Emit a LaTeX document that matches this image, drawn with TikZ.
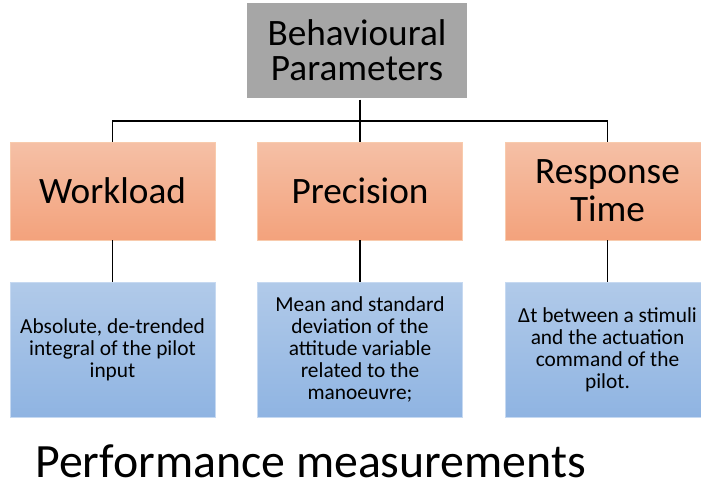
\documentclass[tikz,border=0pt]{standalone}
\usepackage{fontspec}
\setmainfont{Carlito}
\definecolor{boxgray}{HTML}{A6A6A6}
\definecolor{orangetop}{HTML}{F5C0A6}
\definecolor{orangebot}{HTML}{F3A27C}
\definecolor{orangeline}{HTML}{F8CBAD}
\definecolor{bluetop}{HTML}{B1CAE9}
\definecolor{bluebot}{HTML}{8FB4E2}
\definecolor{blueline}{HTML}{C6D9F1}
\tikzset{
	head/.style={draw=white, line width=1pt, fill=boxgray, minimum width=222*0.025cm,
		minimum height=97*0.025cm, align=center, font=\fontsize{26.5}{25}\selectfont},
	measure/.style={draw=orangeline, top color=orangetop, bottom color=orangebot,
		minimum width=205*0.025cm, minimum height=98*0.025cm, align=center,
		font=\fontsize{26.5}{27}\selectfont},
	descbox/.style={draw=blueline, top color=bluetop, bottom color=bluebot,
		minimum width=205*0.025cm, minimum height=135*0.025cm, align=center,
		font=\fontsize{15.2}{15.6}\selectfont},
	conn/.style={line width=1.1pt}
}
\begin{document}
\begin{tikzpicture}[x=0.025cm, y=-0.025cm]
	\clip (0,0) rectangle (701,486);
	\node[head] (params) at (357,50.5) {Behavioural\\Parameters};
	\node[measure] (workload) at (112.5,191) {Workload};
	\node[measure] (precision) at (360,191) {Precision};
	\node[measure] (resptime) at (607.5,191) {Response\\Time};
	\node[descbox] (wdesc) at (112.5,349.5) {Absolute, de-trended\\integral of the pilot\\input};
	\node[descbox] (pdesc) at (360,349.5) {Mean and standard\\deviation of the\\attitude variable\\related to the\\manoeuvre;};
	\node[descbox] (rdesc) at (607.5,349.5) {Δt between a stimuli\\and the actuation\\command of the\\pilot.};
	\node[anchor=base west, inner sep=0pt, text depth=0pt, font=\fontsize{34}{38}\selectfont] (perf) at (35,477) {Performance measurements};
	\coordinate (bus) at (360,121);
	\draw[conn] (workload.north) |- (bus) -| (resptime.north);
	\draw[conn] (params.south -| precision.north) -- (precision.north);
	\foreach \a/\b in {workload/wdesc, precision/pdesc, resptime/rdesc}
	  {
	      \draw[conn] (\a) -- (\b);
	  }
\end{tikzpicture}
\end{document}
